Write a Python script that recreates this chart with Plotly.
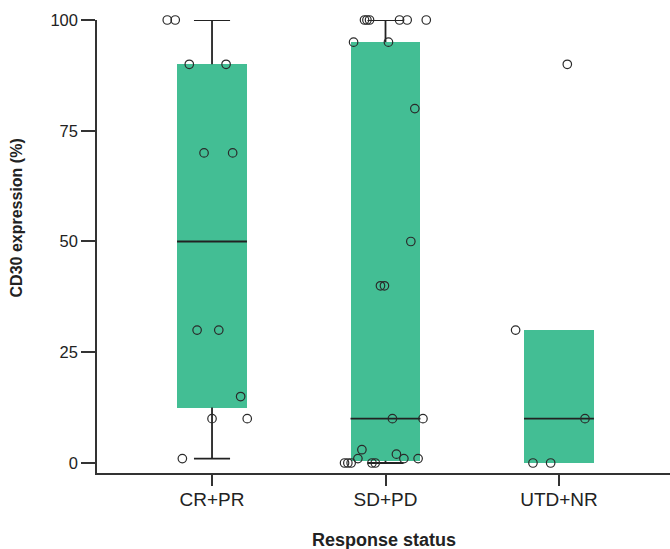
import plotly.graph_objects as go

# ---- data ----
categories = ["CR+PR", "SD+PD", "UTD+NR"]
q1 = [12.5, 0.5, 0]
median = [50, 10, 10]
q3 = [90, 95, 30]
lower_fence = [1, 0, 0]
upper_fence = [100, 100, 30]

cr_pr_values = [100, 100, 90, 90, 70, 70, 30, 30, 15, 10, 10, 1]
cr_pr_jitter = [-0.258, -0.212, -0.131, 0.081, -0.046, 0.119, -0.086, 0.039, 0.165, 0.0, 0.203, -0.171]

sd_pd_values = [100, 100, 100, 100, 100, 100, 95, 95, 80, 50, 40, 40, 10, 10, 3, 2, 1, 1, 1, 0, 0, 0, 0, 0]
sd_pd_jitter = [-0.121, -0.107, -0.092, 0.081, 0.125, 0.235, -0.184, 0.017, 0.169, 0.146, -0.029, -0.006,
                0.040, 0.216, -0.136, 0.063, -0.159, 0.106, 0.188, -0.236, -0.217, -0.198, -0.078, -0.059]

utd_nr_values = [90, 30, 10, 0, 0]
utd_nr_jitter = [0.048, -0.250, 0.150, -0.150, -0.048]

y_ticks = [0, 25, 50, 75, 100]

x_title = "Response status"
y_title = "CD30 expression (%)"

# ---- style ----
BOX_COLOR = "#43BE94"
INK = "#222222"
AXIS = "#333333"
BOX_W = 0.403
CAP_HALF = 0.104
FONT = "Liberation Sans, Arial, Helvetica, sans-serif"

fig = go.Figure()

pos = list(range(len(categories)))

# box bodies
fig.add_trace(go.Bar(
    x=pos, y=[b - a for a, b in zip(q1, q3)], base=q1, width=BOX_W,
    marker=dict(color=BOX_COLOR, line=dict(width=0)), hoverinfo="skip", showlegend=False))

# medians and whiskers
lx, ly = [], []
for i in pos:
    lx += [i - BOX_W / 2, i + BOX_W / 2, None]
    ly += [median[i], median[i], None]
    if upper_fence[i] > q3[i]:
        lx += [i, i, None, i - CAP_HALF, i + CAP_HALF, None]
        ly += [q3[i], upper_fence[i], None, upper_fence[i], upper_fence[i], None]
    if lower_fence[i] < q1[i]:
        lx += [i, i, None, i - CAP_HALF, i + CAP_HALF, None]
        ly += [q1[i], lower_fence[i], None, lower_fence[i], lower_fence[i], None]
fig.add_trace(go.Scatter(x=lx, y=ly, mode="lines", line=dict(color=INK, width=1.8),
                         hoverinfo="skip", showlegend=False, cliponaxis=False))

# points
groups = [(cr_pr_values, cr_pr_jitter), (sd_pd_values, sd_pd_jitter), (utd_nr_values, utd_nr_jitter)]
for i, (vals, jit) in enumerate(groups):
    fig.add_trace(go.Scatter(
        x=[i + j for j in jit], y=vals, mode="markers",
        marker=dict(symbol="circle-open", size=8.5, color="#2a2a2a", line=dict(width=1.2)),
        showlegend=False, cliponaxis=False, name=categories[i]))

fig.update_layout(
    width=670, height=549,
    margin=dict(l=97, r=0, t=20, b=76, autoexpand=False),
    paper_bgcolor="white", plot_bgcolor="white",
    font=dict(family=FONT, color=INK, size=16),
    bargap=0,
    annotations=[
        dict(text="<b>%s</b>" % x_title, xref="paper", yref="paper", x=0.5, y=-0.148,
             xanchor="center", yanchor="middle", showarrow=False, font=dict(size=18, color=INK)),
        dict(text="<b>%s</b>" % y_title, xref="paper", yref="paper", x=-0.1405, y=0.563,
             xanchor="center", yanchor="middle", textangle=-90, showarrow=False,
             font=dict(size=16, color=INK)),
    ],
)
fig.update_xaxes(
    range=[-0.663, 2.64], tickvals=pos, ticktext=categories, automargin=False,
    showline=True, linecolor=AXIS, linewidth=1.5, showgrid=False, zeroline=False,
    ticks="outside", ticklen=11, tickwidth=1.5, tickcolor=AXIS,
    tickfont=dict(size=19, color=INK), ticklabelstandoff=-3,
)
fig.update_yaxes(
    range=[-2.26, 100], tickvals=y_ticks, automargin=False,
    showline=True, linecolor=AXIS, linewidth=1.5, showgrid=False, zeroline=False,
    ticks="outside", ticklen=14, tickwidth=1.5, tickcolor=AXIS,
    tickfont=dict(size=16.5, color=INK), ticklabelstandoff=0,
)

fig.write_html("out.html", config={"displayModeBar": False},
               post_script="document.body.style.margin='0';document.body.style.overflow='hidden';")
